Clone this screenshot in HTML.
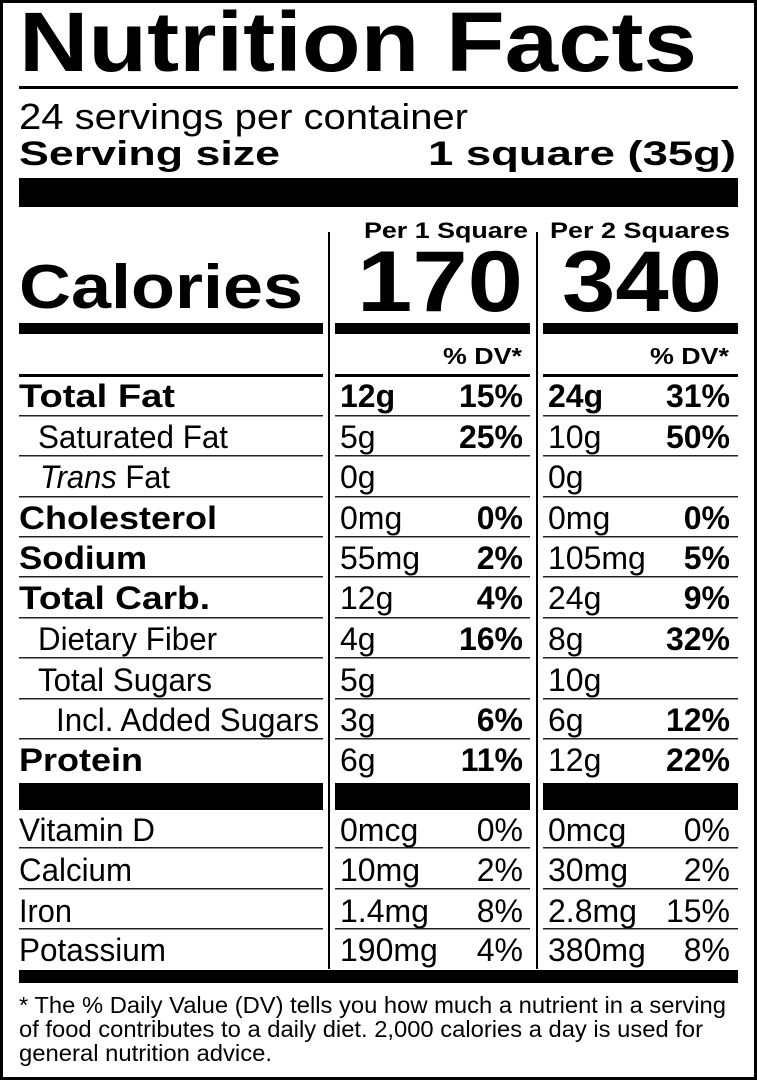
<!DOCTYPE html>
<html><head><style>html,body{margin:0;padding:0;background:#fff}svg{display:block}</style></head>
<body>
<svg width="757" height="1081" viewBox="0 0 757 1081" xmlns="http://www.w3.org/2000/svg" font-family="Liberation Sans, Arial, sans-serif">
<rect x="1.5" y="1.5" width="754" height="1077" fill="#fff" stroke="#000" stroke-width="3"/>
<text x="19" y="71" font-size="84" font-weight="bold" textLength="678" lengthAdjust="spacingAndGlyphs">Nutrition Facts</text>
<rect x="19" y="86" width="719" height="3"/>
<text x="19" y="129" font-size="36" textLength="449" lengthAdjust="spacingAndGlyphs">24 servings per container</text>
<text x="19" y="165" font-size="34" font-weight="bold" textLength="261" lengthAdjust="spacingAndGlyphs">Serving size</text>
<text x="428" y="165" font-size="34" font-weight="bold" textLength="308" lengthAdjust="spacingAndGlyphs">1 square (35g)</text>
<rect x="19" y="178" width="719" height="29"/>
<text x="364" y="238" font-size="22" font-weight="bold" textLength="164" lengthAdjust="spacingAndGlyphs">Per 1 Square</text>
<text x="550" y="238" font-size="22" font-weight="bold" textLength="180" lengthAdjust="spacingAndGlyphs">Per 2 Squares</text>
<rect x="328" y="232" width="2" height="737"/>
<rect x="536" y="232" width="2" height="737"/>
<text x="19" y="308" font-size="62" font-weight="bold" textLength="284" lengthAdjust="spacingAndGlyphs">Calories</text>
<text x="357" y="311" font-size="86" font-weight="bold" textLength="166" lengthAdjust="spacingAndGlyphs">170</text>
<text x="562" y="311" font-size="86" font-weight="bold" textLength="160" lengthAdjust="spacingAndGlyphs">340</text>
<rect x="19" y="323" width="304" height="11"/>
<rect x="335" y="323" width="195" height="11"/>
<rect x="543" y="323" width="195" height="11"/>
<text x="443" y="364" font-size="23" font-weight="bold" textLength="79" lengthAdjust="spacingAndGlyphs">% DV*</text>
<text x="650" y="364" font-size="23" font-weight="bold" textLength="79" lengthAdjust="spacingAndGlyphs">% DV*</text>
<g fill="#000">
<rect x="19" y="374" width="304" height="3"/><rect x="335" y="374" width="195" height="3"/><rect x="543" y="374" width="195" height="3"/>
</g>
<g fill="#222">
<rect x="19" y="415" width="304" height="1.5"/><rect x="335" y="415" width="195" height="1.5"/><rect x="543" y="415" width="195" height="1.5"/>
<rect x="19" y="455" width="304" height="1.5"/><rect x="335" y="455" width="195" height="1.5"/><rect x="543" y="455" width="195" height="1.5"/>
<rect x="19" y="496" width="304" height="1.5"/><rect x="335" y="496" width="195" height="1.5"/><rect x="543" y="496" width="195" height="1.5"/>
<rect x="19" y="536" width="304" height="1.5"/><rect x="335" y="536" width="195" height="1.5"/><rect x="543" y="536" width="195" height="1.5"/>
<rect x="19" y="576" width="304" height="1.5"/><rect x="335" y="576" width="195" height="1.5"/><rect x="543" y="576" width="195" height="1.5"/>
<rect x="19" y="617" width="304" height="1.5"/><rect x="335" y="617" width="195" height="1.5"/><rect x="543" y="617" width="195" height="1.5"/>
<rect x="19" y="657" width="304" height="1.5"/><rect x="335" y="657" width="195" height="1.5"/><rect x="543" y="657" width="195" height="1.5"/>
<rect x="19" y="698" width="304" height="1.5"/><rect x="335" y="698" width="195" height="1.5"/><rect x="543" y="698" width="195" height="1.5"/>
<rect x="19" y="738" width="304" height="1.5"/><rect x="335" y="738" width="195" height="1.5"/><rect x="543" y="738" width="195" height="1.5"/>
<rect x="19" y="847" width="304" height="1.5"/><rect x="335" y="847" width="195" height="1.5"/><rect x="543" y="847" width="195" height="1.5"/>
<rect x="19" y="888" width="304" height="1.5"/><rect x="335" y="888" width="195" height="1.5"/><rect x="543" y="888" width="195" height="1.5"/>
<rect x="19" y="928" width="304" height="1.5"/><rect x="335" y="928" width="195" height="1.5"/><rect x="543" y="928" width="195" height="1.5"/>
</g>
<rect x="19" y="783" width="304" height="27"/><rect x="335" y="783" width="195" height="27"/><rect x="543" y="783" width="195" height="27"/>
<rect x="19" y="970" width="719" height="13"/>
<g font-size="32">
<text x="19" y="407" font-weight="bold" textLength="156" lengthAdjust="spacingAndGlyphs">Total Fat</text>
<text x="38" y="448" textLength="190" lengthAdjust="spacingAndGlyphs">Saturated Fat</text>
<text x="40" y="488" textLength="130" lengthAdjust="spacingAndGlyphs"><tspan font-style="italic">Trans</tspan> Fat</text>
<text x="19" y="529" font-weight="bold" textLength="198" lengthAdjust="spacingAndGlyphs">Cholesterol</text>
<text x="19" y="569" font-weight="bold" textLength="128" lengthAdjust="spacingAndGlyphs">Sodium</text>
<text x="19" y="609" font-weight="bold" textLength="191" lengthAdjust="spacingAndGlyphs">Total Carb.</text>
<text x="38" y="650" textLength="179" lengthAdjust="spacingAndGlyphs">Dietary Fiber</text>
<text x="38" y="691" textLength="174" lengthAdjust="spacingAndGlyphs">Total Sugars</text>
<text x="56" y="731" textLength="263" lengthAdjust="spacingAndGlyphs">Incl. Added Sugars</text>
<text x="19" y="771" font-weight="bold" textLength="124" lengthAdjust="spacingAndGlyphs">Protein</text>
<text x="19" y="841" textLength="136" lengthAdjust="spacingAndGlyphs">Vitamin D</text>
<text x="19" y="881" textLength="113" lengthAdjust="spacingAndGlyphs">Calcium</text>
<text x="19" y="922" textLength="53" lengthAdjust="spacingAndGlyphs">Iron</text>
<text x="19" y="961" textLength="147" lengthAdjust="spacingAndGlyphs">Potassium</text>

<g font-weight="bold">
<text x="340" y="407">12g</text><text x="548" y="407">24g</text>
<text x="523" y="407" text-anchor="end">15%</text><text x="730" y="407" text-anchor="end">31%</text>
<text x="523" y="448" text-anchor="end">25%</text><text x="730" y="448" text-anchor="end">50%</text>
<text x="523" y="529" text-anchor="end">0%</text><text x="730" y="529" text-anchor="end">0%</text>
<text x="523" y="569" text-anchor="end">2%</text><text x="730" y="569" text-anchor="end">5%</text>
<text x="523" y="609" text-anchor="end">4%</text><text x="730" y="609" text-anchor="end">9%</text>
<text x="523" y="650" text-anchor="end">16%</text><text x="730" y="650" text-anchor="end">32%</text>
<text x="523" y="731" text-anchor="end">6%</text><text x="730" y="731" text-anchor="end">12%</text>
<text x="523" y="771" text-anchor="end">11%</text><text x="730" y="771" text-anchor="end">22%</text>
</g>
<text x="340" y="448">5g</text><text x="548" y="448">10g</text>
<text x="340" y="488">0g</text><text x="548" y="488">0g</text>
<text x="340" y="529">0mg</text><text x="548" y="529">0mg</text>
<text x="340" y="569">55mg</text><text x="548" y="569">105mg</text>
<text x="340" y="609">12g</text><text x="548" y="609">24g</text>
<text x="340" y="650">4g</text><text x="548" y="650">8g</text>
<text x="340" y="691">5g</text><text x="548" y="691">10g</text>
<text x="340" y="731">3g</text><text x="548" y="731">6g</text>
<text x="340" y="771">6g</text><text x="548" y="771">12g</text>
<text x="340" y="841">0mcg</text><text x="548" y="841">0mcg</text>
<text x="523" y="841" text-anchor="end">0%</text><text x="730" y="841" text-anchor="end">0%</text>
<text x="340" y="881">10mg</text><text x="548" y="881">30mg</text>
<text x="523" y="881" text-anchor="end">2%</text><text x="730" y="881" text-anchor="end">2%</text>
<text x="340" y="922">1.4mg</text><text x="548" y="922">2.8mg</text>
<text x="523" y="922" text-anchor="end">8%</text><text x="730" y="922" text-anchor="end">15%</text>
<text x="340" y="961">190mg</text><text x="548" y="961">380mg</text>
<text x="523" y="961" text-anchor="end">4%</text><text x="730" y="961" text-anchor="end">8%</text>
</g>
<g font-size="23">
<text x="19" y="1013" textLength="707" lengthAdjust="spacingAndGlyphs">* The % Daily Value (DV) tells you how much a nutrient in a serving</text>
<text x="19" y="1037" textLength="684" lengthAdjust="spacingAndGlyphs">of food contributes to a daily diet. 2,000 calories a day is used for</text>
<text x="19" y="1061" textLength="253" lengthAdjust="spacingAndGlyphs">general nutrition advice.</text>
</g>
</svg>
</body></html>
